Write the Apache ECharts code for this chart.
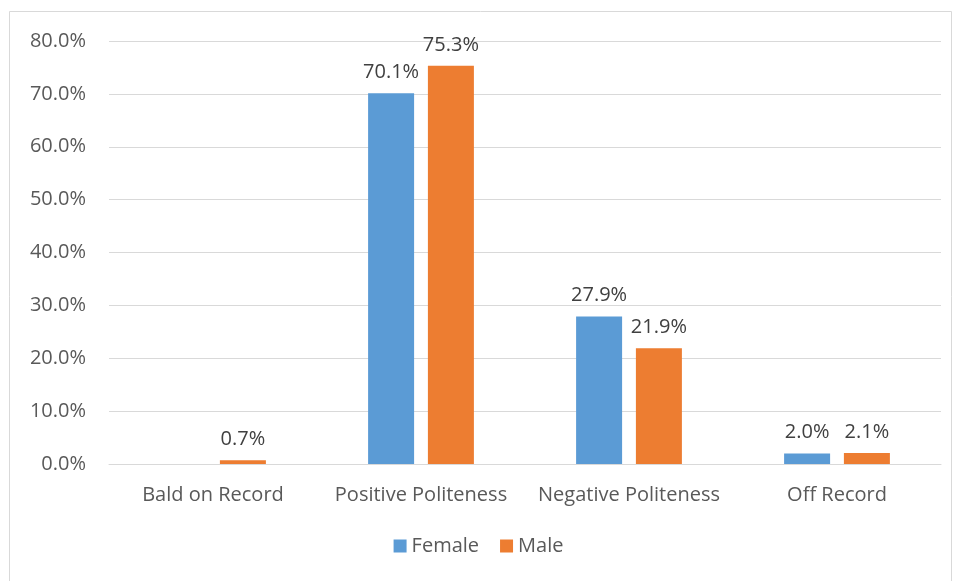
<!DOCTYPE html>
<html>
<head>
<meta charset="utf-8">
<script src="https://cdn.jsdelivr.net/npm/echarts@6/dist/echarts.min.js"></script>
<style>
  html, body { margin: 0; padding: 0; background: #fff; }
  #chart { width: 957px; height: 581px; }
</style>
</head>
<body>
<div id="chart"></div>
<script>
const categories = ['Bald on Record', 'Positive Politeness', 'Negative Politeness', 'Off Record']
const female = [null, 70.1, 27.9, 2.0]
const male   = [0.7, 75.3, 21.9, 2.1]
const yTicks = { min: 0, max: 80, interval: 10 }

const font = '"Open Sans", "Noto Sans", sans-serif'
const label = {
  show: true,
  position: 'top',
  distance: 11,
  color: '#404040',
  fontSize: 20,
  fontFamily: font,
  formatter: p => p.value == null ? '' : p.value.toFixed(1) + '%'
}

const chart = echarts.init(document.getElementById('chart'))
chart.setOption({
  animation: false,
  backgroundColor: '#fff',
  textStyle: { fontFamily: font },
  graphic: [{
    type: 'rect',
    shape: { x: 9.5, y: 11.5, width: 942, height: 580 },
    style: { fill: 'none', stroke: '#d9d9d9', lineWidth: 1 },
    silent: true
  }],
  grid: { left: 109, right: 16, top: 41, bottom: 117 },
  legend: {
    bottom: 20,
    left: 'center',
    itemWidth: 13,
    itemHeight: 13,
    itemGap: 21,
    icon: 'rect',
    textStyle: { color: '#595959', fontSize: 20, fontFamily: font },
    data: ['Female', 'Male']
  },
  xAxis: {
    type: 'category',
    data: categories,
    axisTick: { show: false },
    axisLine: { lineStyle: { color: '#d9d9d9', width: 1 } },
    axisLabel: { color: '#595959', fontSize: 20, fontFamily: font, margin: 21, interval: 0, hideOverlap: false }
  },
  yAxis: {
    type: 'value',
    min: yTicks.min,
    max: yTicks.max,
    interval: yTicks.interval,
    axisLine: { show: false },
    axisTick: { show: false },
    splitLine: { lineStyle: { color: '#d9d9d9', width: 1 } },
    axisLabel: {
      color: '#595959', fontSize: 20, fontFamily: font, margin: 23,
      formatter: v => v.toFixed(1) + '%'
    }
  },
  series: [
    {
      name: 'Female', type: 'bar', data: female,
      barWidth: 46, barGap: '30%',
      itemStyle: { color: '#5b9bd5' },
      label
    },
    {
      name: 'Male', type: 'bar', data: male,
      barWidth: 46,
      itemStyle: { color: '#ed7d31' },
      label
    }
  ]
})
</script>
</body>
</html>
